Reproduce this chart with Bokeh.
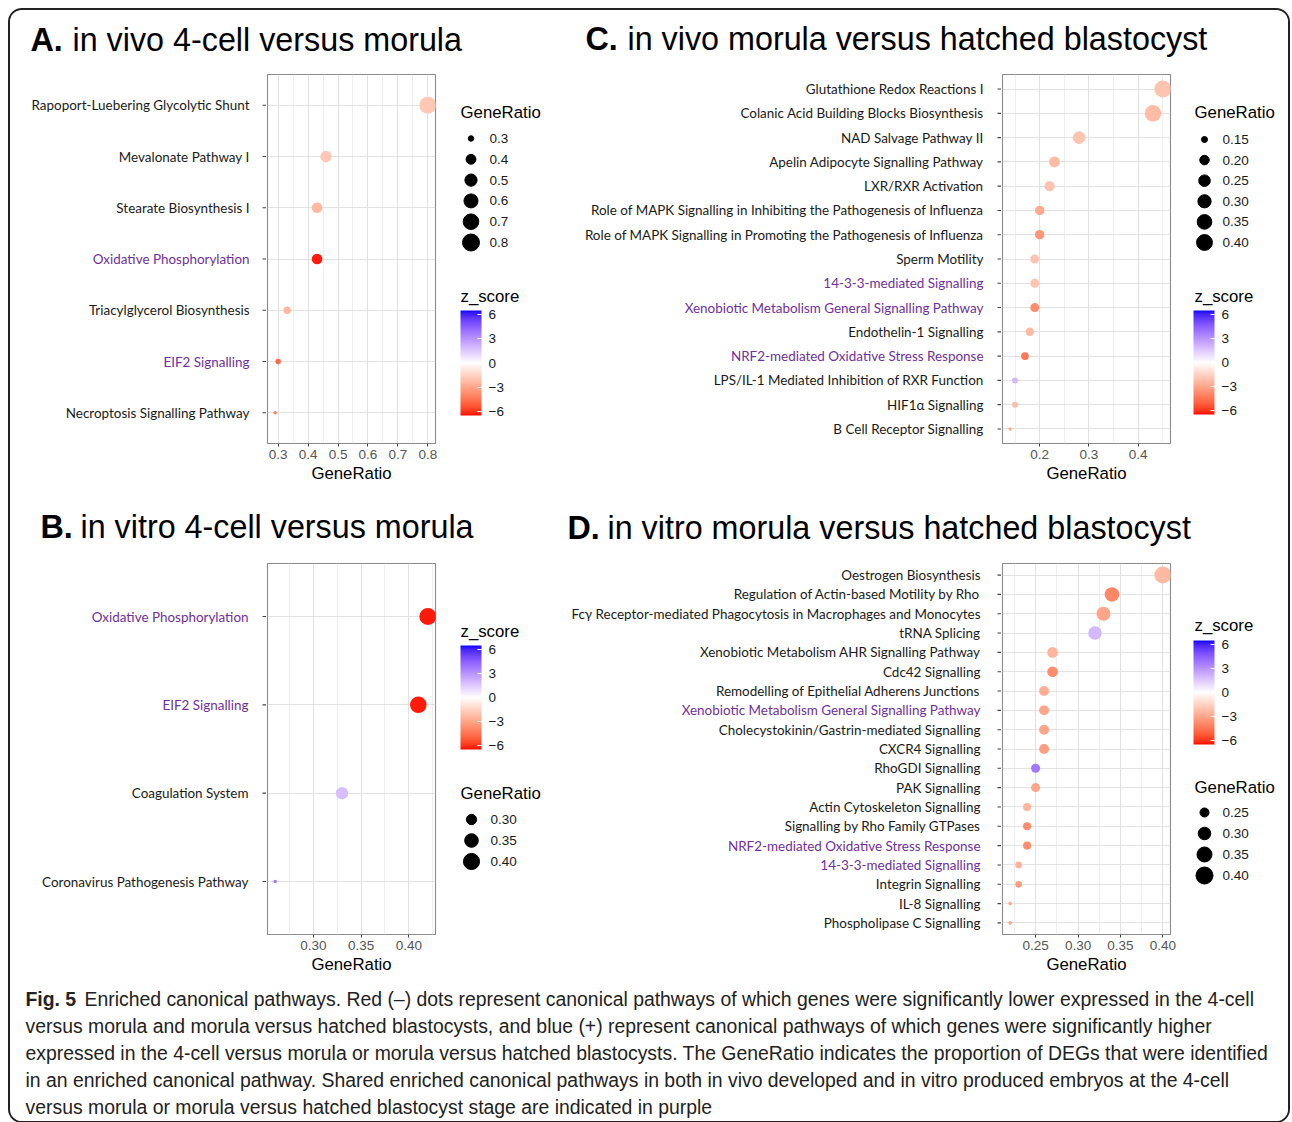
import numpy as np
from bokeh.plotting import figure
from bokeh.models import (Range1d, FactorRange, ColumnDataSource, LinearColorMapper,
                          ColorBar, FixedTicker, NumeralTickFormatter, Grid, CategoricalTicker)
from bokeh.layouts import row, column
from bokeh.core.properties import value
from bokeh.embed import file_html
from bokeh.resources import INLINE

# ----------------------------------------------------------------- data
A_pathways = ["Rapoport-Luebering Glycolytic Shunt", "Mevalonate Pathway I",
              "Stearate Biosynthesis I", "Oxidative Phosphorylation",
              "Triacylglycerol Biosynthesis", "EIF2 Signalling",
              "Necroptosis Signalling Pathway"]
A_ratio = [0.80, 0.46, 0.43, 0.43, 0.33, 0.30, 0.29]
A_z = [-1.9, -1.9, -2.4, -6.3, -2.4, -4.8, -4.0]
A_shared = [False, False, False, True, False, True, False]
A_ticks = [0.3, 0.4, 0.5, 0.6, 0.7, 0.8]
A_minor = [0.25, 0.35, 0.45, 0.55, 0.65, 0.75, 0.85]
A_breaks = [0.3, 0.4, 0.5, 0.6, 0.7, 0.8]

B_pathways = ["Oxidative Phosphorylation", "EIF2 Signalling",
              "Coagulation System", "Coronavirus Pathogenesis Pathway"]
B_ratio = [0.42, 0.41, 0.33, 0.26]
B_z = [-6.3, -6.3, 1.8, 3.8]
B_shared = [True, True, False, False]
B_ticks = [0.30, 0.35, 0.40]
B_minor = [0.275, 0.325, 0.375, 0.425]
B_breaks = [0.30, 0.35, 0.40]

C_pathways = ["Glutathione Redox Reactions I",
              "Colanic Acid Building Blocks Biosynthesis",
              "NAD Salvage Pathway II",
              "Apelin Adipocyte Signalling Pathway",
              "LXR/RXR Activation",
              "Role of MAPK Signalling in Inhibiting the Pathogenesis of Influenza",
              "Role of MAPK Signalling in Promoting the Pathogenesis of Influenza",
              "Sperm Motility",
              "14-3-3-mediated Signalling",
              "Xenobiotic Metabolism General Signalling Pathway",
              "Endothelin-1 Signalling",
              "NRF2-mediated Oxidative Stress Response",
              "LPS/IL-1 Mediated Inhibition of RXR Function",
              "HIF1α Signalling",
              "B Cell Receptor Signalling"]
C_ratio = [0.45, 0.43, 0.28, 0.23, 0.22, 0.20, 0.20, 0.19, 0.19, 0.19,
           0.18, 0.17, 0.15, 0.15, 0.14]
C_z = [-2.0, -2.2, -2.0, -2.3, -2.0, -2.8, -3.5, -2.0, -2.0, -3.8,
       -2.3, -4.4, 2.0, -2.2, -2.8]
C_shared = [False, False, False, False, False, False, False, False, True, True,
            False, True, False, False, False]
C_ticks = [0.2, 0.3, 0.4]
C_minor = [0.15, 0.25, 0.35, 0.45]
C_breaks = [0.15, 0.20, 0.25, 0.30, 0.35, 0.40]

D_pathways = ["Oestrogen Biosynthesis",
              "Regulation of Actin-based Motility by Rho",
              "Fcγ Receptor-mediated Phagocytosis in Macrophages and Monocytes",
              "tRNA Splicing",
              "Xenobiotic Metabolism AHR Signalling Pathway",
              "Cdc42 Signalling",
              "Remodelling of Epithelial Adherens Junctions",
              "Xenobiotic Metabolism General Signalling Pathway",
              "Cholecystokinin/Gastrin-mediated Signalling",
              "CXCR4 Signalling",
              "RhoGDI Signalling",
              "PAK Signalling",
              "Actin Cytoskeleton Signalling",
              "Signalling by Rho Family GTPases",
              "NRF2-mediated Oxidative Stress Response",
              "14-3-3-mediated Signalling",
              "Integrin Signalling",
              "IL-8 Signalling",
              "Phospholipase C Signalling"]
D_ratio = [0.40, 0.34, 0.33, 0.32, 0.27, 0.27, 0.26, 0.26, 0.26, 0.26,
           0.25, 0.25, 0.24, 0.24, 0.24, 0.23, 0.23, 0.22, 0.22]
D_z = [-2.3, -4.0, -3.0, 2.0, -2.5, -3.8, -2.7, -3.0, -3.0, -3.3,
       3.8, -3.0, -2.5, -3.8, -3.8, -2.5, -3.3, -3.0, -3.0]
D_shared = [False, False, False, False, False, False, False, True, False, False,
            False, False, False, False, True, True, False, False, False]
D_ticks = [0.25, 0.30, 0.35, 0.40]
D_minor = [0.225, 0.275, 0.325, 0.375]
D_breaks = [0.25, 0.30, 0.35, 0.40]

Z_ticks = [-6, -3, 0, 3, 6]
Z_limits = (-6.5, 6.5)

TITLE_A = ("A.", "in vivo 4-cell versus morula")
TITLE_B = ("B.", "in vitro 4-cell versus morula")
TITLE_C = ("C.", "in vivo morula versus hatched blastocyst")
TITLE_D = ("D.", "in vitro morula versus hatched blastocyst")

CAPTION_BOLD = "Fig. 5"
CAPTION_LINES = [
    "Enriched canonical pathways. Red (–) dots represent canonical pathways of which genes were significantly lower expressed in the 4-cell",
    "versus morula and morula versus hatched blastocysts, and blue (+) represent canonical pathways of which genes were significantly higher",
    "expressed in the 4-cell versus morula or morula versus hatched blastocysts. The GeneRatio indicates the proportion of DEGs that were identified",
    "in an enriched canonical pathway. Shared enriched canonical pathways in both in vivo developed and in vitro produced embryos at the 4-cell",
    "versus morula or morula versus hatched blastocyst stage are indicated in purple",
]

# ----------------------------------------------------------------- style
ARIAL = "Liberation Sans"
LABEL_FONT = "Lato"
LABEL_SIZE = "13.45px"
PURPLE = "#7030A0"
INK = "#1a1a1a"

# ----------------------------------------------------------------- colours (ggplot gradient2, Lab interpolation)
_M = np.array([[0.4124564, 0.3575761, 0.1804375],
               [0.2126729, 0.7151522, 0.0721750],
               [0.0193339, 0.1191920, 0.9503041]])
_W = np.array([0.95047, 1.0, 1.08883])


def _f(t):
    d = 6 / 29
    return np.where(t > d ** 3, np.cbrt(t), t / (3 * d * d) + 4 / 29)


def _finv(t):
    d = 6 / 29
    return np.where(t > d, t ** 3, 3 * d * d * (t - 4 / 29))


def rgb2lab(rgb):
    c = np.array(rgb, float) / 255
    lin = np.where(c <= 0.04045, c / 12.92, ((c + 0.055) / 1.055) ** 2.4)
    fx, fy, fz = _f(_M @ lin / _W)
    return np.array([116 * fy - 16, 500 * (fx - fy), 200 * (fy - fz)])


def lab2hex(lab):
    L, a, b = lab
    fy = (L + 16) / 116
    xyz = np.array([_finv(fy + a / 500), _finv(fy), _finv(fy - b / 200)]) * _W
    lin = np.clip(np.linalg.inv(_M) @ xyz, 0, 1)
    c = np.where(lin <= 0.0031308, 12.92 * lin, 1.055 * lin ** (1 / 2.4) - 0.055)
    r, g, bb = (np.clip(c, 0, 1) * 255).round().astype(int)
    return f"#{r:02x}{g:02x}{bb:02x}"


_red, _white, _blue = rgb2lab((255, 0, 0)), rgb2lab((255, 255, 255)), rgb2lab((0, 0, 255))
PALETTE = []
for t in np.linspace(0, 1, 256):
    if t <= 0.5:
        PALETTE.append(lab2hex(_red + (_white - _red) * (t / 0.5)))
    else:
        PALETTE.append(lab2hex(_white + (_blue - _white) * ((t - 0.5) / 0.5)))

MAPPER = LinearColorMapper(palette=PALETTE, low=Z_limits[0], high=Z_limits[1])

D_MIN, D_MAX = 3.6, 17.0


def size_fn(vmin, vmax):
    def f(v):
        t = (np.asarray(v, float) - vmin) / (vmax - vmin)
        return list(D_MIN + (D_MAX - D_MIN) * np.sqrt(np.clip(t, 0, 1)))
    return f


# ----------------------------------------------------------------- layout constants (page px)
OX = 10          # content origin: 8px margin + 2px border
CW = 1278        # content width
T1_H, T2_H, CAP_H = 52, 62, 136
ROW1_Y, ROW1_H = 62, 428
ROW2_Y, ROW2_H = 552, 433
SPLIT = 558      # boundary between left legend and right label block


def bare(width, height, xr, yr, bt=0, bb=0):
    p = figure(width=width, height=height, x_range=xr, y_range=yr,
               x_axis_type=None, y_axis_type=None, output_backend="svg",
               toolbar_location=None, min_border_left=0, min_border_right=0,
               min_border_top=bt, min_border_bottom=bb)
    p.outline_line_color = None
    p.background_fill_color = "white"
    p.border_fill_color = "white"
    return p


def build_panel(cats, ratio, z, shared, ticks, minor, fmt, breaks, bfmt,
                row_y, row_h, lab_x0, leg_x0, leg_x1, frame, label_right, leg):
    fx0, fx1, fy0, fy1 = frame
    lo, hi = min(ratio), max(ratio)
    sz = size_fn(lo, hi)
    src = ColumnDataSource(dict(cat=cats, ratio=ratio, z=z, size=sz(ratio),
                                lab_color=[PURPLE if s else INK for s in shared]))
    yr = FactorRange(factors=cats[::-1], range_padding=0.1, range_padding_units="absolute")
    bt, bb = fy0 - row_y, row_y + row_h - fy1
    plot_x0 = fx0 - 1

    # -- category labels (coloured) and their tick marks, sharing the categorical range
    lf = bare(plot_x0 - lab_x0, row_h, Range1d(lab_x0, plot_x0), yr, bt, bb)
    lf.text(x=label_right, y="cat", text="cat", source=src,
            text_align="right", text_baseline="middle", text_color="lab_color",
            text_font=value(LABEL_FONT), text_font_size=LABEL_SIZE)
    lf.segment(x0=plot_x0 - 4, x1=plot_x0, y0="cat", y1="cat", source=src,
               line_color="#444444", line_width=1.1)

    # -- dot plot
    pad = 0.05 * (hi - lo)
    p = figure(width=leg_x0 - plot_x0, height=row_h, x_range=Range1d(lo - pad, hi + pad),
               y_range=yr, y_axis_type=None, output_backend="svg", toolbar_location=None,
               min_border_left=1, min_border_right=leg_x0 - fx1,
               min_border_top=bt, min_border_bottom=bb)
    p.background_fill_color = "white"
    p.border_fill_color = "white"
    p.outline_line_color = "#8a8a8a"
    p.outline_line_width = 1.1
    p.xgrid.ticker = FixedTicker(ticks=ticks, minor_ticks=minor)
    p.xaxis.ticker = FixedTicker(ticks=ticks, minor_ticks=minor)
    p.xaxis.formatter = NumeralTickFormatter(format=fmt)
    p.xgrid.grid_line_color = "#e2e2e2"
    p.xgrid.minor_grid_line_color = "#eeeeee"
    p.add_layout(Grid(dimension=1, ticker=CategoricalTicker(), grid_line_color="#e2e2e2"))
    p.xaxis.axis_line_color = None
    p.xaxis.major_tick_line_color = "#444444"
    p.xaxis.major_tick_in = 0
    p.xaxis.major_tick_out = 3
    p.xaxis.minor_tick_line_color = None
    p.xaxis.major_label_text_color = "#555555"
    p.xaxis.major_label_text_font = ARIAL
    p.xaxis.major_label_text_font_size = "13.5px"
    p.xaxis.major_label_standoff = 2
    p.xaxis.axis_label = "GeneRatio"
    p.xaxis.axis_label_text_font = ARIAL
    p.xaxis.axis_label_text_font_style = "normal"
    p.xaxis.axis_label_text_font_size = "16.8px"
    p.xaxis.axis_label_text_color = "black"
    p.xaxis.axis_label_standoff = 2
    p.scatter(x="ratio", y="cat", size="size", source=src, line_color=None,
              fill_color={"field": "z", "transform": MAPPER})

    # -- legends (size key + colour bar), drawn in page pixel coordinates
    g = bare(leg_x1 - leg_x0, row_h, Range1d(leg_x0, leg_x1), Range1d(fy1, fy0), bt, bb)
    n = len(breaks)
    iy = [leg["items_y0"] + i * leg["step"] for i in range(n)]
    g.text(x=[leg["title_x"]], y=[leg["size_title_y"]], text=["GeneRatio"],
           text_baseline="middle", text_font=value(ARIAL), text_font_size="16.8px",
           text_color="black")
    g.scatter(x=[leg["circle_x"]] * n, y=iy, size=sz(breaks), color="black")
    g.text(x=[leg["label_x"]] * n, y=iy, text=[bfmt.format(b) for b in breaks],
           text_baseline="middle", text_font=value(ARIAL), text_font_size="13.5px",
           text_color=INK)
    g.text(x=[leg["title_x"]], y=[leg["z_title_y"]], text=["z_score"],
           text_baseline="middle", text_font=value(ARIAL), text_font_size="16.8px",
           text_color="black")
    cb = ColorBar(color_mapper=MAPPER, ticker=FixedTicker(ticks=Z_ticks),
                  location=(leg["bar_x"] - leg_x0, fy1 - (leg["bar_top"] + leg["bar_h"])),
                  width=leg["bar_w"], height=leg["bar_h"], padding=0, margin=0,
                  label_standoff=7, major_label_text_font=ARIAL,
                  major_label_text_font_size="13.5px", major_label_text_color=INK,
                  major_tick_line_color="white", major_tick_in=4, major_tick_out=0,
                  bar_line_color=None, background_fill_alpha=0, border_line_color=None)
    g.add_layout(cb)
    return [lf, p, g]


panel_A = build_panel(A_pathways, A_ratio, A_z, A_shared, A_ticks, A_minor, "0.0",
                      A_breaks, "{:.1f}", ROW1_Y, ROW1_H, 10, 445, SPLIT,
                      (267, 435, 74, 443), 249,
                      dict(title_x=460, size_title_y=112, items_y0=138, step=20.8,
                           circle_x=470.5, label_x=489, z_title_y=296, bar_x=460,
                           bar_top=310, bar_w=21, bar_h=105))
panel_C = build_panel(C_pathways, C_ratio, C_z, C_shared, C_ticks, C_minor, "0.0",
                      C_breaks, "{:.2f}", ROW1_Y, ROW1_H, SPLIT, 1180, 1288,
                      (1002, 1170, 74, 443), 983,
                      dict(title_x=1194, size_title_y=112, items_y0=139, step=20.6,
                           circle_x=1204, label_x=1222, z_title_y=296, bar_x=1193,
                           bar_top=310, bar_w=21, bar_h=104))
panel_B = build_panel(B_pathways, B_ratio, B_z, B_shared, B_ticks, B_minor, "0.00",
                      B_breaks, "{:.2f}", ROW2_Y, ROW2_H, 10, 445, SPLIT,
                      (267, 435, 563, 934), 248,
                      dict(title_x=460, size_title_y=793, items_y0=819, step=21,
                           circle_x=471, label_x=490, z_title_y=631, bar_x=460,
                           bar_top=645, bar_w=21, bar_h=104))
panel_D = build_panel(D_pathways, D_ratio, D_z, D_shared, D_ticks, D_minor, "0.00",
                      D_breaks, "{:.2f}", ROW2_Y, ROW2_H, SPLIT, 1180, 1288,
                      (1002, 1170, 563, 934), 980,
                      dict(title_x=1194, size_title_y=787, items_y0=812, step=21,
                           circle_x=1204, label_x=1222, z_title_y=625, bar_x=1193,
                           bar_top=640, bar_w=21, bar_h=104))


# ----------------------------------------------------------------- titles and caption strips
def title_strip(y0, h, items):
    t = bare(CW, h, Range1d(OX, OX + CW), Range1d(y0 + h, y0))
    for (bold, rest), (xb, xr, yc) in items:
        t.text(x=[xb], y=[yc], text=[bold], text_baseline="middle",
               text_font=value(ARIAL), text_font_style="bold", text_font_size="32.3px",
               text_color="black")
        t.text(x=[xr], y=[yc], text=[rest], text_baseline="middle",
               text_font=value(ARIAL), text_font_size="32.3px", text_color="black")
    return t


title1 = title_strip(OX, T1_H, [(TITLE_A, (30, 72, 39)), (TITLE_C, (585, 627, 38))])
title2 = title_strip(ROW1_Y + ROW1_H, T2_H, [(TITLE_B, (40, 80, 526)), (TITLE_D, (567, 607, 527.5))])

cap_y0 = ROW2_Y + ROW2_H
cap = bare(CW, CAP_H, Range1d(OX, OX + CW), Range1d(cap_y0 + CAP_H, cap_y0))
line_y = [998 + 27 * i for i in range(len(CAPTION_LINES))]
cap.text(x=[25], y=[line_y[0]], text=[CAPTION_BOLD], text_baseline="middle",
         text_font=value(ARIAL), text_font_style="bold", text_font_size="19.4px",
         text_color="#222222")
cap.text(x=[84] + [25] * (len(CAPTION_LINES) - 1), y=line_y, text=CAPTION_LINES,
         text_baseline="middle", text_font=value(ARIAL), text_font_size="19.4px",
         text_color="#222222")

root = column(title1, row(*panel_A, *panel_C), title2, row(*panel_B, *panel_D), cap,
              styles={"margin-left": "8px", "margin-top": "8px",
                      "border": "2px solid #222222", "border-radius": "14px",
                      "overflow": "hidden"})

open("out.html", "w").write(file_html(root, INLINE, title="Enriched canonical pathways"))
